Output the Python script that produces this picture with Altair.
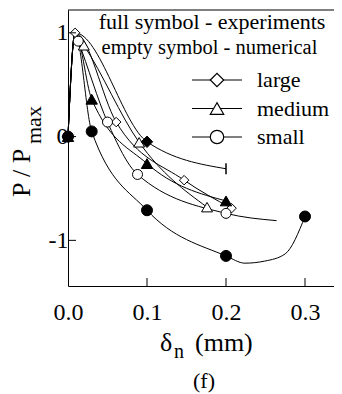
import altair as alt
import pandas as pd

FONT = "Liberation Serif"

# ---- data ----
# experiments (full symbols)
large_exp_x = [0.0, 0.009, 0.1, 0.2]
large_exp_y = [0.0, 1.0, -0.05, -0.31]
medium_exp_x = [0.0, 0.009, 0.03, 0.1, 0.2]
medium_exp_y = [0.0, 1.0, 0.36, -0.26, -0.62]
small_exp_x = [0.0, 0.009, 0.03, 0.1, 0.2, 0.224, 0.249, 0.275, 0.3]
small_exp_y = [0.0, 1.0, 0.05, -0.71, -1.15, -1.22, -1.2, -1.13, -0.77]
# numerical (empty symbols)
large_num_x = [0.0, 0.009, 0.061, 0.147, 0.207]
large_num_y = [0.0, 1.0, 0.14, -0.42, -0.69]
medium_num_x = [0.0, 0.009, 0.02, 0.09, 0.176]
medium_num_y = [0.0, 1.0, 0.88, -0.055, -0.68]
small_num_x = [0.0, 0.009, 0.013, 0.05, 0.088, 0.2, 0.264]
small_num_y = [0.0, 1.0, 0.92, 0.14, -0.365, -0.74, -0.81]

# markers: (x, y)
large_exp_pts = ([0.0, 0.1], [0.0, -0.05])
large_exp_end = ([0.2], [-0.31])
medium_exp_pts = ([0.0, 0.03, 0.1, 0.2], [0.0, 0.36, -0.26, -0.62])
small_exp_pts = ([0.0, 0.03, 0.1, 0.2, 0.3], [0.0, 0.05, -0.71, -1.15, -0.77])
large_num_pts = ([0.009, 0.061, 0.147, 0.207], [1.0, 0.14, -0.42, -0.69])
medium_num_pts = ([0.02, 0.09, 0.176], [0.88, -0.055, -0.68])
small_num_pts = ([0.013, 0.05, 0.088, 0.2], [0.92, 0.14, -0.365, -0.74])

x_ticks = [0.0, 0.1, 0.2, 0.3]
y_ticks = [-1, 0, 1]
legend_labels = ["large", "medium", "small"]
legend_shapes = ["diamond", "triangle-up", "circle"]
header_lines = ["full symbol - experiments", "empty symbol - numerical"]

W, H = 266, 276
XMAX = W / 790.0
xs = alt.Scale(domain=[0, XMAX], nice=False, zero=False)
ys = alt.Scale(domain=[-1.44, 1.22], nice=False, zero=False)

line_series = [
    ("le", large_exp_x, large_exp_y),
    ("me", medium_exp_x, medium_exp_y),
    ("se", small_exp_x, small_exp_y),
    ("ln", large_num_x, large_num_y),
    ("mn", medium_num_x, medium_num_y),
    ("sn", small_num_x, small_num_y),
]
rows = []
for name, xv, yv in line_series:
    for i, (a, b) in enumerate(zip(xv, yv)):
        rows.append({"s": name, "x": a, "y": b, "o": i})
lines_df = pd.DataFrame(rows)

layers = []
layers.append(
    alt.Chart(lines_df).mark_line(color="black", strokeWidth=1, interpolate="monotone", clip=False)
    .encode(
        x=alt.X("x:Q", scale=xs,
                axis=alt.Axis(values=x_ticks, format=".1f", title=None, ticks=False, tickSize=0,
                              labelFlush=False, labelOverlap=False,
                              labelPadding=14, labelFontSize=24, labelFont=FONT, labelColor="black",
                              domainColor="black", grid=False, labelBaseline="top")),
        y=alt.Y("y:Q", scale=ys,
                axis=alt.Axis(values=y_ticks, title=None, ticks=False, tickSize=0,
                              labelExpr="'' + datum.value", labelFlush=False, labelOverlap=False,
                              labelPadding=0, labelFontSize=24, labelFont=FONT, labelColor="black",
                              domainColor="black", grid=False)),
        detail="s:N",
        order="o:Q",
    )
)

def pts(xy, shape, filled, size):
    df = pd.DataFrame({"x": xy[0], "y": xy[1]})
    return alt.Chart(df).mark_point(
        shape=shape, filled=filled, size=size, color="black",
        fill="black" if filled else "white", stroke="black", strokeWidth=1, opacity=1
    ).encode(x=alt.X("x:Q", scale=xs), y=alt.Y("y:Q", scale=ys))

layers += [
    pts(large_num_pts, "diamond", False, 90),
    pts(medium_num_pts, "triangle-up", False, 120),
    pts(small_num_pts, "circle", False, 100),
    pts(large_exp_pts, "diamond", True, 130),
    pts(medium_exp_pts, "triangle-up", True, 130),
    pts(small_exp_pts, "circle", True, 121),
]
end_df = pd.DataFrame({"x": large_exp_end[0], "y": large_exp_end[1]})
layers.append(
    alt.Chart(end_df).mark_point(shape="M0,-1L0,1", size=121, stroke="black", strokeWidth=1.5, opacity=1)
    .encode(x=alt.X("x:Q", scale=xs), y=alt.Y("y:Q", scale=ys))
)

# inward ticks
xt_df = pd.DataFrame({"v": x_ticks[1:]})
layers.append(alt.Chart(xt_df).mark_rule(color="black").encode(
    x=alt.X("v:Q", scale=xs), y=alt.value(H), y2=alt.value(H - 8)))
yt_df = pd.DataFrame({"v": y_ticks})
layers.append(alt.Chart(yt_df).mark_rule(color="black").encode(
    y=alt.Y("v:Q", scale=ys), x=alt.value(0), x2=alt.value(8)))
# top frame line
layers.append(alt.Chart(pd.DataFrame({"a": [0]})).mark_rule(color="black").encode(
    x=alt.value(0), x2=alt.value(W), y=alt.value(0)))

def text(t, x, y, size, align="left", baseline="middle", angle=0):
    kw = dict(font=FONT, fontSize=size, align=align, baseline=baseline, color="black")
    if angle:
        kw["angle"] = angle
    return alt.Chart(pd.DataFrame({"t": [t]})).mark_text(**kw).encode(
        x=alt.value(x), y=alt.value(y), text="t:N")

# header text
layers.append(text(header_lines[0], 144, 12, 22, align="center"))
layers.append(text(header_lines[1], 141.5, 38, 20.5, align="center"))

# legend rows
for i, (lab, shp) in enumerate(zip(legend_labels, legend_shapes)):
    yy = 70 + i * 28.5
    layers.append(alt.Chart(pd.DataFrame({"a": [0]})).mark_rule(color="black").encode(
        x=alt.value(124), x2=alt.value(174), y=alt.value(yy)))
    layers.append(alt.Chart(pd.DataFrame({"a": [0]})).mark_point(
        shape=shp, filled=False, size=180, stroke="black", fill="white", strokeWidth=1.2, opacity=1
    ).encode(x=alt.value(149), y=alt.value(yy)))
    layers.append(text(lab, 189, yy, 22))

# axis titles
layers.append(text("\u03b4", 92, 341, 26, baseline="alphabetic"))
layers.append(text("n", 106, 348, 20, baseline="alphabetic"))
layers.append(text("(mm)", 127, 341, 26, baseline="alphabetic"))
layers.append(text("(f)", 136, 371, 22, align="center"))
layers.append(text("P / P", -38, 187, 26, baseline="alphabetic", angle=270))
layers.append(text("max", -27, 134, 22, baseline="alphabetic", angle=270))

chart = alt.layer(*layers).properties(
    width=W, height=H,
    autosize=alt.AutoSizeParams(type="none"),
    padding={"left": 60, "top": 2, "right": 0, "bottom": 112},
).configure_view(stroke=None).configure_axis(domainWidth=1)

chart.save("out.html", embed_options={"renderer": "svg", "actions": False})
